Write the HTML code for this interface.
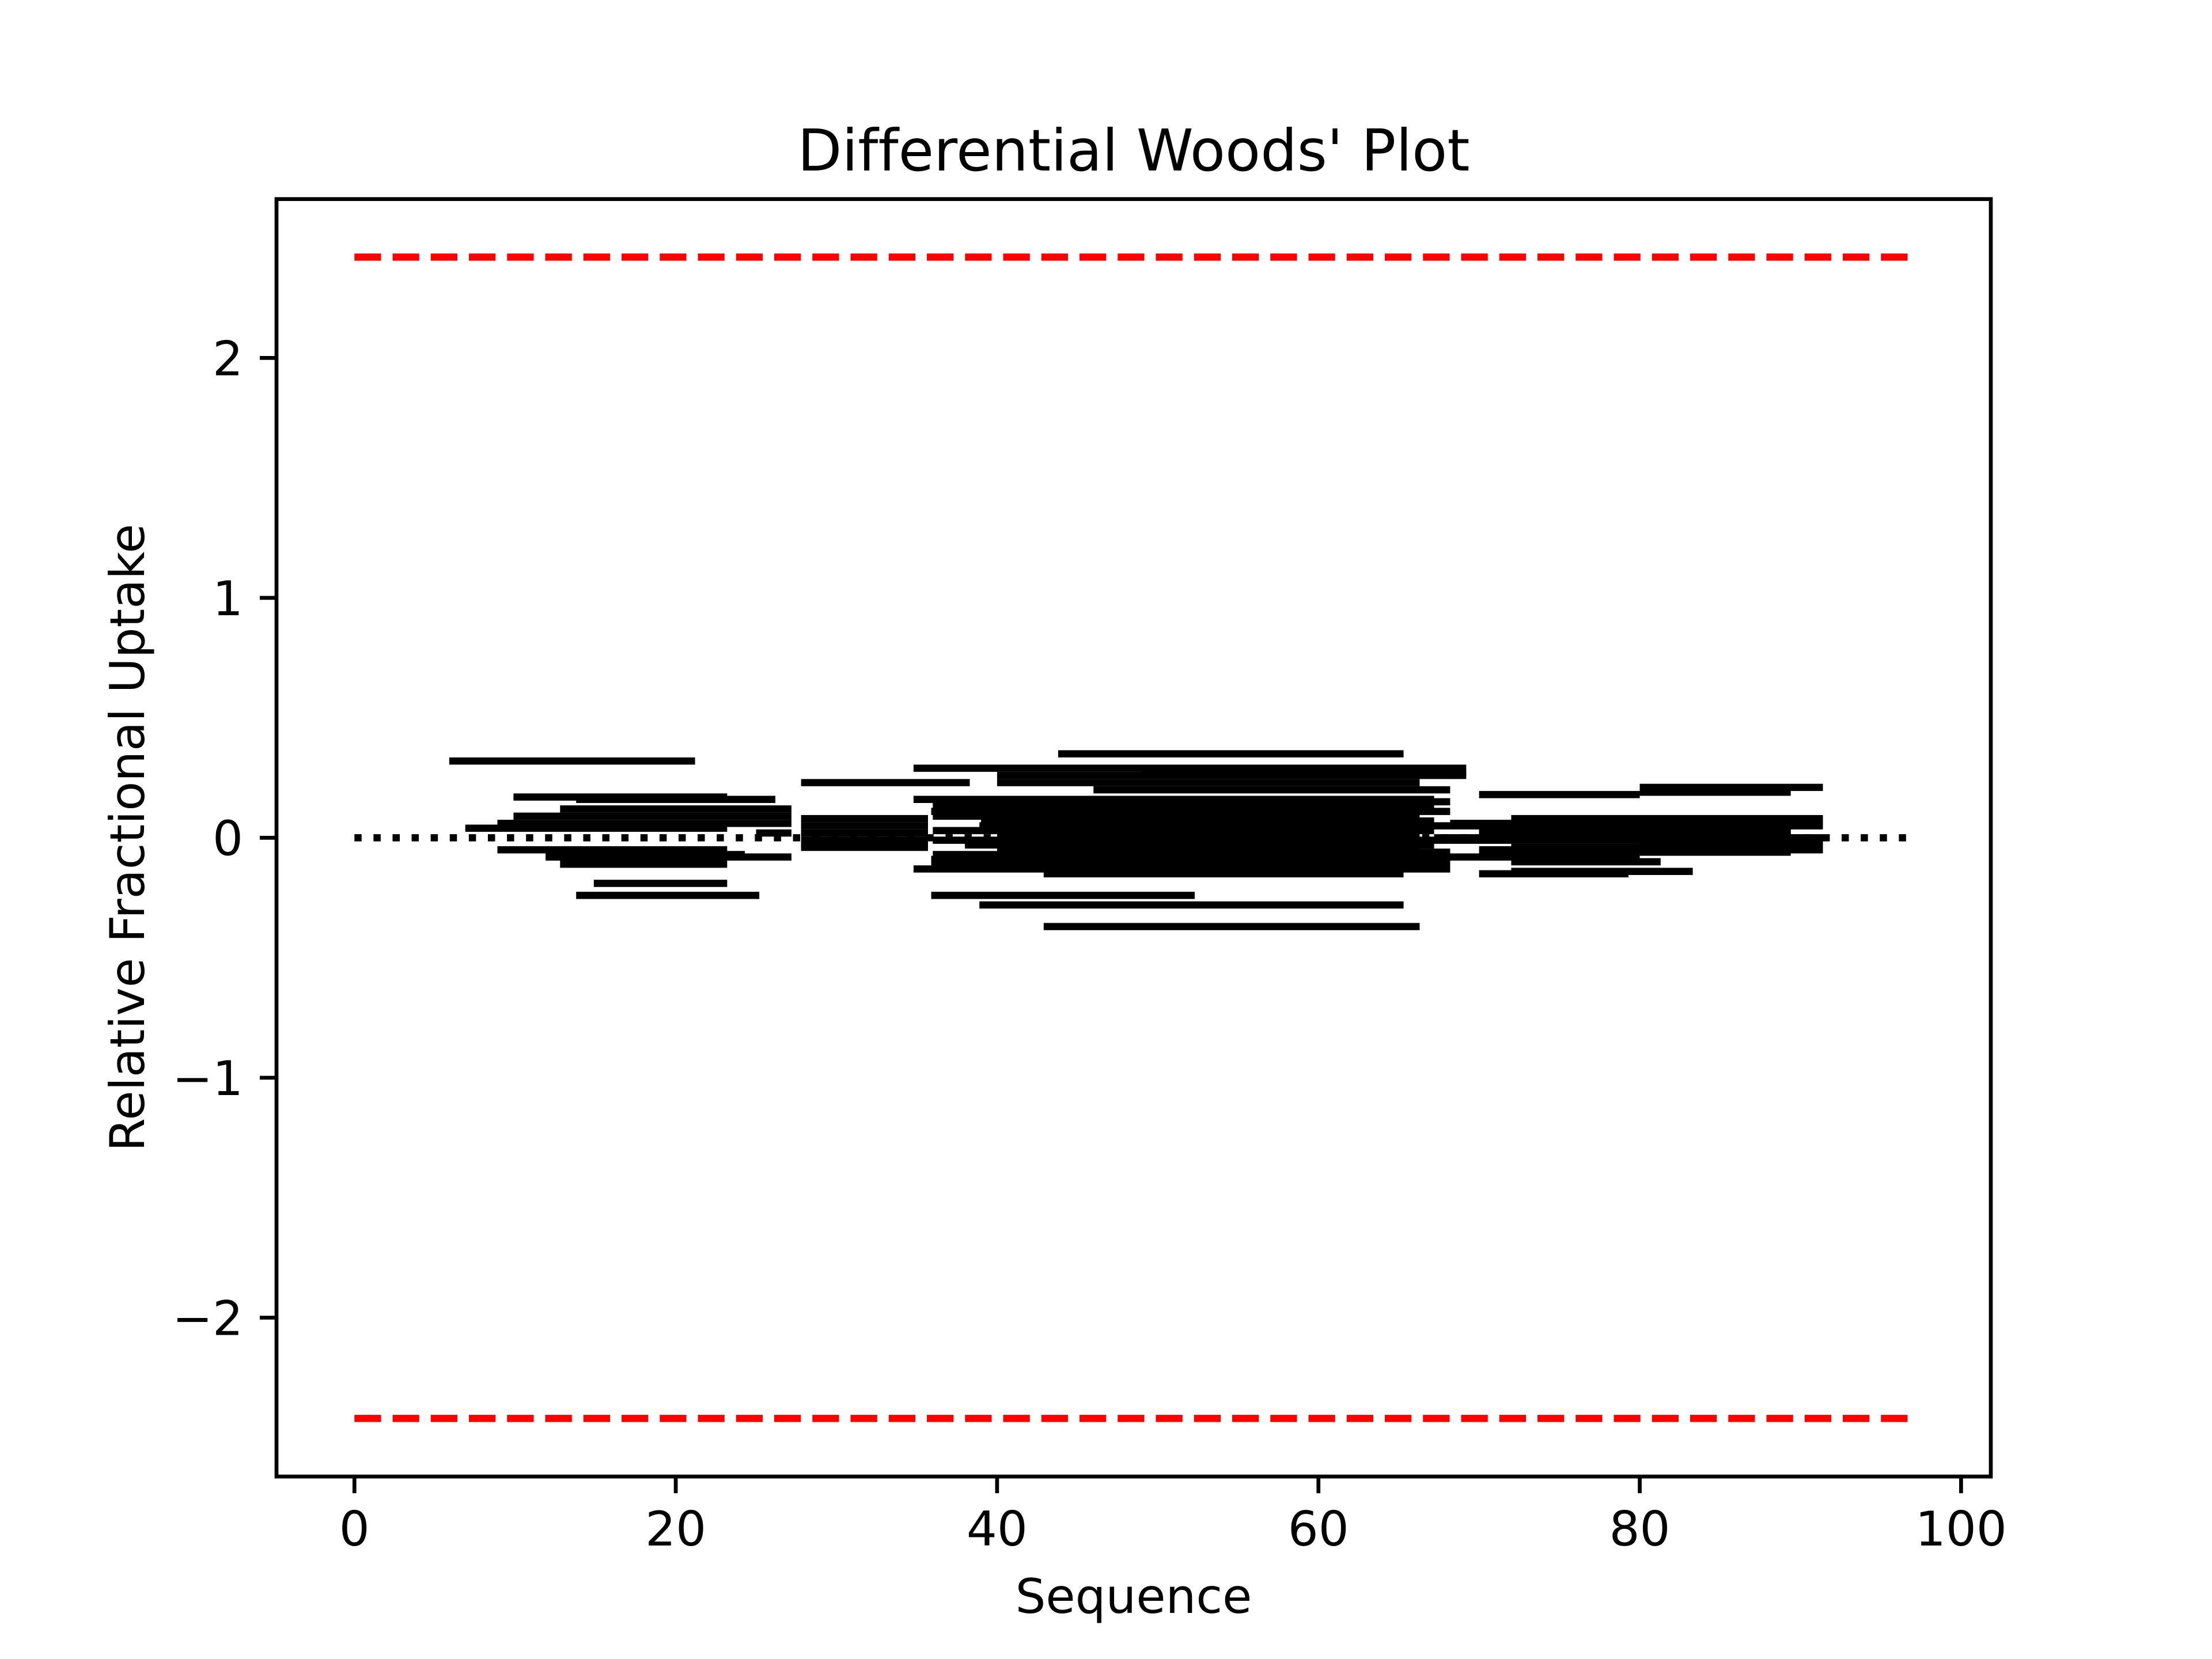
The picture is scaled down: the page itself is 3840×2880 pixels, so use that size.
<!DOCTYPE html>
<html><head><meta charset="utf-8">
<style>
html,body{margin:0;padding:0;background:#fff;}
svg{display:block;}
text{font-family:"DejaVu Sans","Liberation Sans",sans-serif;fill:#000;font-variant-ligatures:none;font-feature-settings:"liga" 0;}
</style></head>
<body>
<svg id="chart" width="3840" height="2880" viewBox="0 0 3840 2880" xmlns="http://www.w3.org/2000/svg">
<rect width="3840" height="2880" fill="#fff"/>
<g id="plot"></g>
<text x="1968" y="296" font-size="100" text-anchor="middle">Differential Woods' Plot</text>
<text x="1968" y="2800" font-size="83.3" text-anchor="middle">Sequence</text>
<text x="0" y="0" font-size="83.3" text-anchor="middle" transform="translate(250,1454) rotate(-90)">Relative Fractional Uptake</text>
</svg>
<script>
const xTicks = [0, 20, 40, 60, 80, 100];
const yTicks = [-2, -1, 0, 1, 2];
const yTickLabels = ["\u22122", "\u22121", "0", "1", "2"];
const threshold = 2.42;
const seqLength = 97;
const barStart = [5.9,9.9,13.8,12.8,9.9,8.9,6.9,25,8.9,11.9,11.9,12.8,14.9,13.8,
 27.8,27.8,27.8,27.8,27.8,27.8,
 27.8,34.8,43.8,40,49,40,46,34.8,
 36,35.9,36,39,38.9,36,40,36,38,40,41,36,38,40,
 34.8,35.9,42.9,35.9,38.9,42.9,
 36,35.9,36,38,
 70,80,80,72,68.2,70,67.2,70,72,80,72,80,80,67.2,72,70,
 68.2,70,68.2,72,70];
const barEnd = [21.2,23.2,26.2,27.2,27.2,27.2,23.2,27.2,23.2,24.3,27.2,23.2,23.2,25.2,
 35.7,35.7,35.7,35.7,35.7,35.7,
 38.3,69.2,65.3,69.2,69.2,66.3,68.2,67.2,
 67.2,68.2,66.3,67.2,68.2,67.2,66.3,68.2,67.2,66.3,68.2,67.2,66.3,67.2,
 68.2,68.2,65.3,52.3,65.3,66.3,
 68.2,67.2,68.2,67.2,
 80,91.4,89.4,91.4,91.4,89.4,80,91.4,89.4,91.4,81.3,89.4,91.4,80,83.3,79.3,
 91.4,89.4,91.4,89.4,91.4];
const barValue = [0.32,0.17,0.16,0.12,0.09,0.06,0.04,0.02,-0.05,-0.07,-0.08,-0.11,-0.19,-0.24,
 0.08,0.05,0.02,-0.01,-0.03,-0.04,
 0.23,0.29,0.35,0.26,0.27,0.23,0.20,0.16,
 0.13,0.11,0.09,0.07,0.05,0.03,0.01,-0.01,-0.03,-0.05,-0.06,-0.07,0.12,0.14,
 -0.13,-0.09,-0.15,-0.24,-0.28,-0.37,
 -0.11,-0.10,0.15,-0.02,
 0.18,0.21,0.19,0.08,0.05,0.03,0.0,0.0,0.01,-0.02,-0.10,-0.06,-0.03,-0.08,-0.14,-0.15,
 0.06,0.02,-0.01,-0.04,-0.05];

const L=480,R=3456,T=345.6,B=2563.2;
const xMin=-4.85,xMax=101.85,yMin=-2.662,yMax=2.662;
function sx(v){return L+(v-xMin)/(xMax-xMin)*(R-L);}
function sy(v){return B-(v-yMin)/(yMax-yMin)*(B-T);}
const NS="http://www.w3.org/2000/svg";
const g=document.getElementById('plot');
function mk(tag,attrs){const e=document.createElementNS(NS,tag);for(const k in attrs)e.setAttribute(k,attrs[k]);g.appendChild(e);return e;}

for(let i=0;i<barStart.length;i++){
  const e=mk('line',{x1:sx(barStart[i]),x2:sx(barEnd[i]),y1:sy(barValue[i]),y2:sy(barValue[i]),stroke:'#000','stroke-width':12.5});
  
  
}
const z=mk('line',{x1:sx(0),x2:sx(seqLength),y1:sy(0),y2:sy(0),stroke:'#000','stroke-width':12.5,'stroke-dasharray':'12.5 20.6'});


[threshold,-threshold].forEach(t=>{
  const e=mk('line',{x1:sx(0),x2:sx(seqLength),y1:sy(t),y2:sy(t),stroke:'#ff0000','stroke-width':12.5,'stroke-dasharray':'46.25 20'});
  
  
});
const fr=mk('rect',{x:L,y:T,width:R-L,height:B-T,fill:'none',stroke:'#000','stroke-width':6.7});


xTicks.forEach(t=>{
  const e=mk('line',{x1:sx(t),x2:sx(t),y1:B,y2:B+29,stroke:'#000','stroke-width':6.7});
  
  
  const tx=mk('text',{x:sx(t),y:B+29+29+62,'font-size':83.3,'text-anchor':'middle'});
  tx.textContent=String(t);
  
  
});
yTicks.forEach((t,i)=>{
  const e=mk('line',{x1:L-29,x2:L,y1:sy(t),y2:sy(t),stroke:'#000','stroke-width':6.7});
  
  
  const tx=mk('text',{x:L-29-29,y:sy(t)+30,'font-size':83.3,'text-anchor':'end'});
  tx.textContent=yTickLabels[i];
  
  
});
</script>
</body></html>
